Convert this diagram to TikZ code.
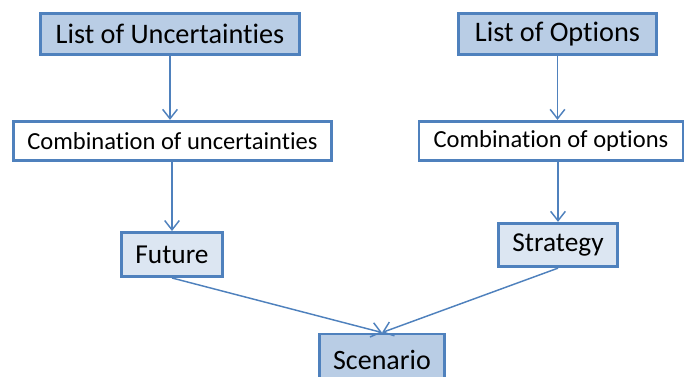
\documentclass[tikz,border=0pt]{standalone}
\usepackage{fontspec}
\setmainfont[Ligatures={NoCommon}]{Carlito}
\usetikzlibrary{arrows.meta}
\definecolor{edgeblue}{HTML}{4F81BD}
\definecolor{fillmid}{HTML}{B9CDE5}
\definecolor{filllight}{HTML}{DCE6F2}
\tikzset{
  box/.style={draw=edgeblue, line width=2.2pt, inner sep=0pt, align=center, text=black},
  headbox/.style={box, fill=fillmid, font=\fontsize{21.2}{23}\selectfont},
  combobox/.style={box, fill=white, font=\fontsize{18.4}{20}\selectfont},
  endbox/.style={box, fill=filllight, font=\fontsize{20.5}{22}\selectfont},
  link/.style={draw=edgeblue, line width=1.1pt, -{Straight Barb[length=7pt,width=11pt,line width=1.1pt]}}
}
\begin{document}
\begin{tikzpicture}[x=0.75pt, y=-0.75pt]
  \useasboundingbox (0,0) rectangle (686,376);
  \clip (0,0) rectangle (686,376);
  \node[headbox, minimum width=194pt, minimum height=31pt] (unc) at (170,34) {List of Uncertainties};
  \node[combobox, minimum width=239pt, minimum height=29.5pt] (cunc) at (172.5,141) {Combination of uncertainties};
  \node[headbox, minimum width=149pt, minimum height=31pt] (opt) at (557.5,34) {List of Options};
  \node[combobox, minimum width=198pt, minimum height=29.5pt] (copt) at (551,141) {Combination of options};
  \node[endbox, minimum width=76pt, minimum height=33pt] (fut) at (172,254.5) {Future};
  \node[endbox, minimum width=89pt, minimum height=32.5pt] (str) at (558,245) {Strategy};
  \node[box, fill=fillmid, font=\fontsize{21}{23}\selectfont, minimum width=94pt, minimum height=39pt] (scn) at (382,360) {Scenario};
  \draw[link] (unc.south) -- (unc.south |- cunc.north);
  \draw[link] (opt.south) -- (opt.south |- copt.north);
  \draw[link] (cunc.south -| fut.north) -- (fut.north);
  \draw[link] (copt.south -| str.north) -- (str.north);
  \draw[link] (fut.south) -- (scn.north);
  \draw[link] (str.south) -- (scn.north);
\end{tikzpicture}
\end{document}
